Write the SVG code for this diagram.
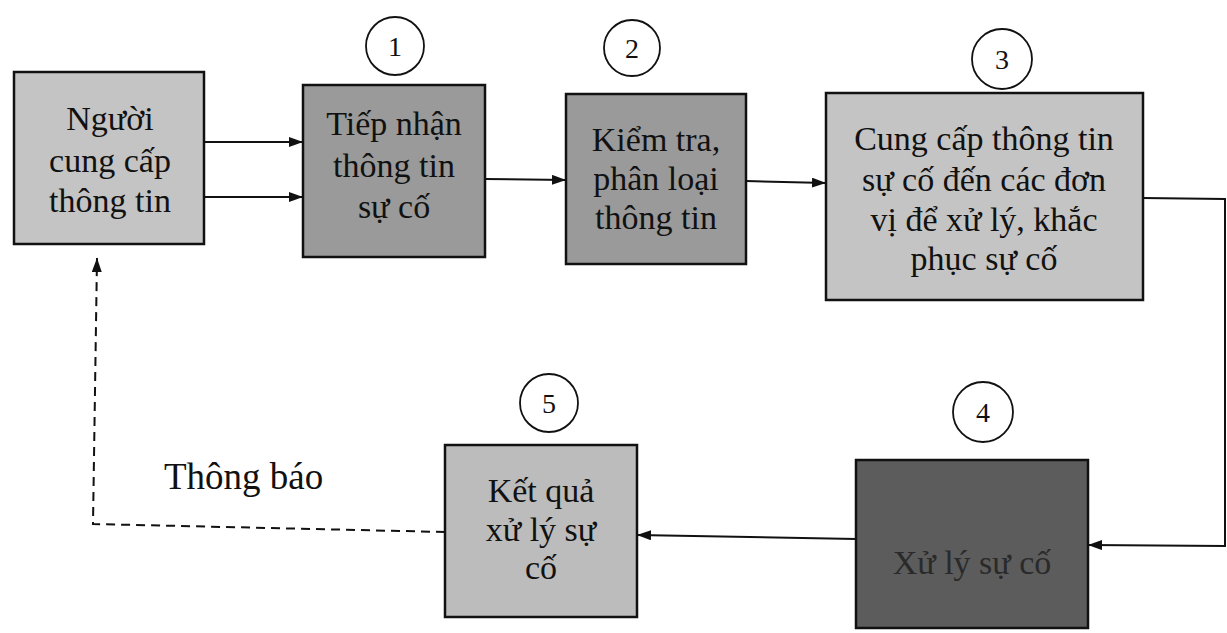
<svg xmlns="http://www.w3.org/2000/svg" width="1227" height="633" viewBox="0 0 1227 633">
<defs>
<style>
.box{stroke:#111;stroke-width:2.5}
.lt{fill:#c4c4c4}
.md{fill:#9a9a9a}
.dk{fill:#5c5c5c}
.circ{fill:#fff;stroke:#111;stroke-width:1.8}
.ln{fill:none;stroke:#111;stroke-width:2}
.dash{fill:none;stroke:#111;stroke-width:2;stroke-dasharray:9,6}
</style>
<marker id="ah" viewBox="0 0 14 10" refX="14" refY="5" markerWidth="14" markerHeight="10" markerUnits="userSpaceOnUse" orient="auto">
<path d="M0,0 L14,5 L0,10 Z" fill="#111"/>
</marker>
</defs>
<rect width="1227" height="633" fill="#fff"/>

<g font-family="'Liberation Serif','Times New Roman',serif" fill="#111">
<g id="connectors">
<line class="ln" x1="204" y1="142" x2="303" y2="142" marker-end="url(#ah)"/>
<line class="ln" x1="204" y1="197" x2="303" y2="197" marker-end="url(#ah)"/>
<line class="ln" x1="485" y1="179" x2="566" y2="180" marker-end="url(#ah)"/>
<line class="ln" x1="746" y1="181" x2="826" y2="183" marker-end="url(#ah)"/>
<path class="ln" d="M1143,198 L1225,199 L1225,546 L1088,545" marker-end="url(#ah)"/>
<line class="ln" x1="856" y1="539" x2="637" y2="535" marker-end="url(#ah)"/>
<path class="dash" d="M445,532 L93,524 L97,258" marker-end="url(#ah)"/>
<text x="164" y="489" font-size="37">Thông báo</text>
</g>

<g id="node-nguoi" text-anchor="middle" font-size="34">
<rect class="box lt" x="14" y="72" width="190" height="172"/>
<text x="110" y="130">Người</text>
<text x="110" y="172">cung cấp</text>
<text x="110" y="212">thông tin</text>
</g>

<g id="node-1" text-anchor="middle" font-size="34">
<circle class="circ" cx="395" cy="46" r="29"/>
<text x="395" y="56" font-size="28">1</text>
<rect class="box md" x="303" y="85" width="182" height="172" stroke-width="3"/>
<text x="394" y="135">Tiếp nhận</text>
<text x="394" y="177">thông tin</text>
<text x="394" y="218">sự cố</text>
</g>

<g id="node-2" text-anchor="middle" font-size="34">
<circle class="circ" cx="632" cy="48" r="28"/>
<text x="632" y="58" font-size="28">2</text>
<rect class="box md" x="566" y="94" width="180" height="170" stroke-width="3"/>
<text x="656" y="151">Kiểm tra,</text>
<text x="656" y="190">phân loại</text>
<text x="656" y="229">thông tin</text>
</g>

<g id="node-3" text-anchor="middle" font-size="34">
<circle class="circ" cx="1002" cy="59" r="30"/>
<text x="1002" y="69" font-size="28">3</text>
<rect class="box lt" x="826" y="93" width="317" height="207"/>
<text x="984" y="150">Cung cấp thông tin</text>
<text x="984" y="191">sự cố đến các đơn</text>
<text x="984" y="231">vị để xử lý, khắc</text>
<text x="984" y="270">phục sự cố</text>
</g>

<g id="node-4" text-anchor="middle" font-size="34">
<circle class="circ" cx="983" cy="412" r="30"/>
<text x="983" y="422" font-size="28">4</text>
<rect class="box dk" x="856" y="460" width="232" height="168" stroke-width="3.5"/>
<text x="972" y="574" fill="#2a2a2a">Xử lý sự cố</text>
</g>

<g id="node-5" text-anchor="middle" font-size="34">
<circle class="circ" cx="549" cy="403" r="29"/>
<text x="549" y="413" font-size="28">5</text>
<rect class="box lt" x="445" y="445" width="192" height="172" style="fill:#bcbcbc"/>
<text x="541" y="502">Kết quả</text>
<text x="541" y="541">xử lý sự</text>
<text x="541" y="579">cố</text>
</g>
</g>
</svg>
